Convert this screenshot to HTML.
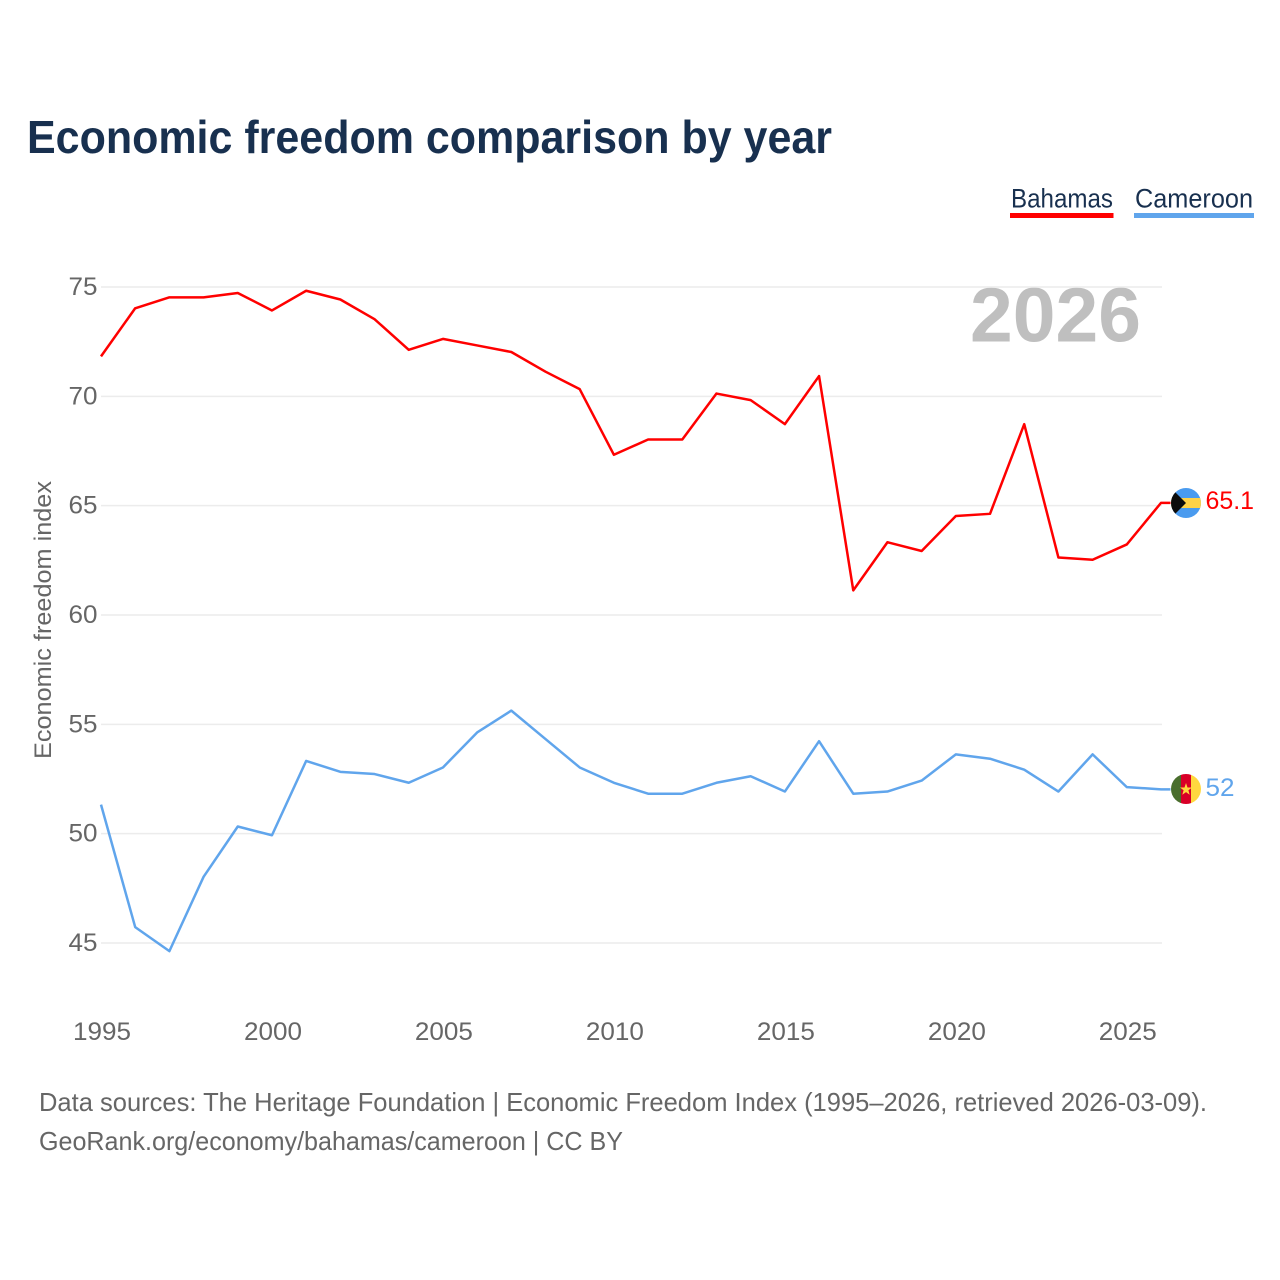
<!DOCTYPE html>
<html lang="en">
<head>
<meta charset="utf-8">
<title>Economic freedom comparison by year</title>
<style>
html,body{margin:0;padding:0;background:#fff}
svg{display:block}
text{font-family:"Liberation Sans",sans-serif}
</style>
</head>
<body>
<svg id="chart" xmlns="http://www.w3.org/2000/svg" width="1280" height="1280" viewBox="0 0 1280 1280">
  <rect width="1280" height="1280" fill="#fff"/>
  <text x="27" y="153" font-size="46" font-weight="700" fill="#18304f" textLength="805" lengthAdjust="spacingAndGlyphs">Economic freedom comparison by year</text>

  <g>
    <text x="1011" y="207.500" font-size="27" fill="#18304f" textLength="102" lengthAdjust="spacingAndGlyphs">Bahamas</text>
    <rect x="1010" y="213" width="103.500" height="5" fill="#ff0000"/>
  </g>
  <g>
    <text x="1135" y="207.500" font-size="27" fill="#18304f" textLength="118" lengthAdjust="spacingAndGlyphs">Cameroon</text>
    <rect x="1134" y="213" width="120" height="5" fill="#60a5ec"/>
  </g>

  <text x="970" y="341.500" font-size="77" font-weight="700" fill="#bfbfbf" textLength="171" lengthAdjust="spacingAndGlyphs">2026</text>

  <g id="grid"></g>
  <g id="yticks"></g>
  <g id="xticks"></g>
  <text transform="translate(51,759) rotate(-90)" font-size="24" fill="#666" textLength="278" lengthAdjust="spacingAndGlyphs">Economic freedom index</text>
  <g id="series"></g>

  <defs>
    <clipPath id="flag-clip-bs"><circle cx="1186" cy="503" r="15"/></clipPath>
    <clipPath id="flag-clip-cm"><circle cx="1186" cy="789" r="15"/></clipPath>
  </defs>
  <g id="flag-bahamas" clip-path="url(#flag-clip-bs)">
    <rect x="1171" y="488" width="30" height="30" fill="#4a9bef"/>
    <rect x="1171" y="498" width="30" height="10" fill="#ffd248"/>
    <polygon points="1171,488 1186,503 1171,518" fill="#0c0c0c"/>
  </g>
  <g id="flag-cameroon" clip-path="url(#flag-clip-cm)">
    <rect x="1171" y="774" width="10" height="30" fill="#4a6e2d"/>
    <rect x="1181" y="774" width="10" height="30" fill="#d80027"/>
    <rect x="1191" y="774" width="10" height="30" fill="#ffd83f"/>
    <polygon points="1186,783 1187.500,787.500 1192,787.500 1188.400,790.300 1189.700,794.800 1186,792.100 1182.300,794.800 1183.600,790.300 1180,787.500 1184.500,787.500" fill="#ffd83f"/>
  </g>
  <text x="1205.500" y="509" font-size="25" fill="#ff0000" textLength="48.500" lengthAdjust="spacingAndGlyphs">65.1</text>
  <text x="1205.500" y="796" font-size="25" fill="#60a5ec" textLength="29" lengthAdjust="spacingAndGlyphs">52</text>

  <text x="39" y="1111" font-size="26" fill="#666" textLength="1168" lengthAdjust="spacingAndGlyphs">Data sources: The Heritage Foundation | Economic Freedom Index (1995–2026, retrieved 2026-03-09).</text>
  <text x="39" y="1150" font-size="26" fill="#666" textLength="584" lengthAdjust="spacingAndGlyphs">GeoRank.org/economy/bahamas/cameroon | CC BY</text>
</svg>
<script>
const years = [1995,1996,1997,1998,1999,2000,2001,2002,2003,2004,2005,2006,2007,2008,2009,2010,2011,2012,2013,2014,2015,2016,2017,2018,2019,2020,2021,2022,2023,2024,2025,2026];
const bahamas = [71.8,74,74.5,74.5,74.7,73.9,74.8,74.4,73.5,72.1,72.6,72.3,72,71.1,70.3,67.3,68,68,70.1,69.8,68.7,70.9,61.1,63.3,62.9,64.5,64.6,68.7,62.6,62.5,63.2,65.1];
const cameroon = [51.3,45.7,44.6,48,50.3,49.9,53.3,52.8,52.7,52.3,53,54.6,55.6,54.3,53,52.3,51.8,51.8,52.3,52.6,51.9,54.2,51.8,51.9,52.4,53.6,53.4,52.9,51.9,53.6,52.1,52];
const yTickValues = [45,50,55,60,65,70,75];
const xTickValues = [1995,2000,2005,2010,2015,2020,2025];

const NS = 'http://www.w3.org/2000/svg';
const xScale = function (year) { return 101.5 + (year - 1995) * (1060 / 31); };
const yScale = function (value) { return 287 + (75 - value) * (656 / 30); };
const flagEdge = 1171;

const gridGroup = document.getElementById('grid');
const yTickGroup = document.getElementById('yticks');
const xTickGroup = document.getElementById('xticks');
const seriesGroup = document.getElementById('series');
seriesGroup.setAttribute('transform', 'translate(-0.5,-0.6)');

yTickValues.forEach(function (value) {
  const line = document.createElementNS(NS, 'line');
  
  
  line.setAttribute('x1', 101);
  line.setAttribute('x2', 1162);
  line.setAttribute('y1', yScale(value));
  line.setAttribute('y2', yScale(value));
  line.setAttribute('stroke', '#ececec');
  line.setAttribute('stroke-width', 1.5);
  gridGroup.appendChild(line);

  const label = document.createElementNS(NS, 'text');
  
  
  label.setAttribute('x', 68.5);
  label.setAttribute('y', yScale(value) + 8);
  label.setAttribute('font-size', 25);
  label.setAttribute('fill', '#666');
  label.setAttribute('textLength', 29);
  label.setAttribute('lengthAdjust', 'spacingAndGlyphs');
  label.textContent = value;
  yTickGroup.appendChild(label);
});

xTickValues.forEach(function (year) {
  const label = document.createElementNS(NS, 'text');
  
  
  label.setAttribute('x', xScale(year) - 28.5);
  label.setAttribute('y', 1040);
  label.setAttribute('font-size', 25);
  label.setAttribute('fill', '#666');
  label.setAttribute('textLength', 58);
  label.setAttribute('lengthAdjust', 'spacingAndGlyphs');
  label.textContent = year;
  xTickGroup.appendChild(label);
});

function drawSeries(values, color, name) {
  const path = document.createElementNS(NS, 'path');
  
  
  const last = values[values.length - 1];
  path.setAttribute('d', values.map(function (value, i) {
    return (i ? 'L' : 'M') + xScale(years[i]).toFixed(2) + ' ' + yScale(value).toFixed(2);
  }).join(' ') + ' L' + flagEdge + ' ' + yScale(last).toFixed(2));
  path.setAttribute('fill', 'none');
  path.setAttribute('stroke', color);
  path.setAttribute('stroke-width', 2.5);
  path.setAttribute('stroke-linejoin', 'round');
  seriesGroup.appendChild(path);
}
drawSeries(bahamas, '#ff0000', 'line-bahamas');
drawSeries(cameroon, '#60a5ec', 'line-cameroon');
</script>
</body>
</html>
